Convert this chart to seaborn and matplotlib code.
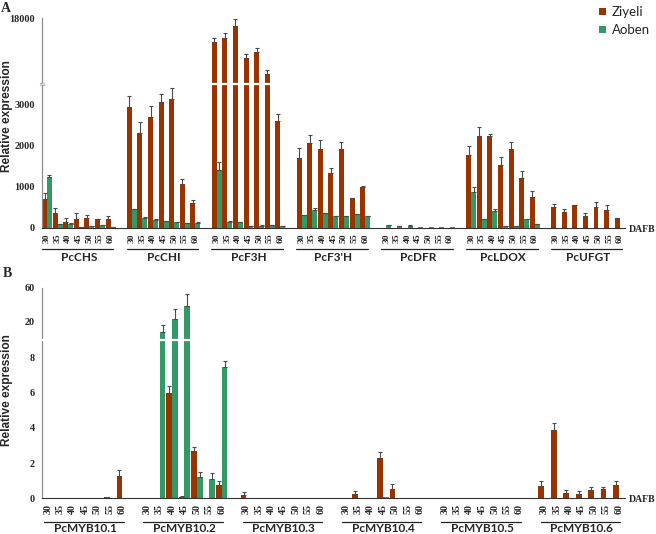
import numpy as np
import pandas as pd
import seaborn as sns
import matplotlib.pyplot as plt
from matplotlib.transforms import blended_transform_factory

# dias despues de floracion y cultivares
days = [30, 35, 40, 45, 50, 55, 60]
cultivars = ['Ziyeli', 'Aoben']
colors = {'Ziyeli': '#993300', 'Aoben': '#339966'}

# panel A: genes estructurales
genes_a = ['PcCHS', 'PcCHI', 'PcF3H', "PcF3'H", 'PcDFR', 'PcLDOX', 'PcUFGT']
chs_z = [698, 350, 139, 204, 236, 211, 211]
chs_z_err = [138, 122, 90, 146, 80, 10, 73]
chs_a = [1240, 83, 100, 20, 30, 58, 20]
chs_a_err = [40, 10, 15, 5, 5, 8, 5]
chi_z = [2935, 2295, 2700, 3056, 3129, 1070, 608]
chi_z_err = [275, 267, 266, 187, 259, 114, 57]
chi_a = [447, 228, 195, 163, 139, 107, 114]
chi_a_err = [10, 40, 10, 10, 10, 10, 20]
f3h_z = [12810, 13570, 16360, 9130, 10600, 5650, 2600]
f3h_z_err = [750, 1100, 1490, 950, 750, 890, 164]
f3h_a = [1402, 146, 140, 30, 50, 60, 40]
f3h_a_err = [188, 20, 10, 5, 5, 5, 5]
f3ph_z = [1695, 2067, 1906, 1322, 1906, 715, 997]
f3ph_z_err = [235, 179, 226, 122, 169, 10, 10]
f3ph_a = [301, 423, 350, 284, 284, 333, 284]
f3ph_a_err = [15, 49, 10, 10, 10, 10, 10]
dfr_z = [3, 3, 3, 3, 3, 3, 3]
dfr_z_err = [0, 0, 0, 0, 0, 0, 0]
dfr_a = [66, 40, 50, 15, 15, 15, 15]
dfr_a_err = [5, 5, 5, 0, 0, 0, 0]
ldox_z = [1768, 2237, 2237, 1524, 1906, 1216, 754]
ldox_z_err = [219, 203, 33, 187, 169, 170, 138]
ldox_a = [875, 204, 414, 40, 40, 204, 90]
ldox_a_err = [122, 10, 32, 5, 5, 10, 5]
ufgt_z = [496, 374, 552, 284, 496, 430, 228]
ufgt_z_err = [80, 73, 10, 66, 129, 115, 16]
ufgt_a = [0, 0, 0, 0, 0, 0, 0]
ufgt_a_err = [0, 0, 0, 0, 0, 0, 0]

# panel B: genes MYB10
genes_b = ['PcMYB10.1', 'PcMYB10.2', 'PcMYB10.3', 'PcMYB10.4', 'PcMYB10.5', 'PcMYB10.6']
myb1_z = [0, 0, 0, 0, 0, 0.05, 1.27]
myb1_z_err = [0, 0, 0, 0, 0, 0, 0.32]
myb1_a = [0, 0, 0, 0, 0, 0, 0]
myb1_a_err = [0, 0, 0, 0, 0, 0, 0]
myb2_z = [0.03, 0, 5.97, 0.1, 2.71, 0, 0.76]
myb2_z_err = [0, 0, 0.42, 0.05, 0.19, 0, 0.22]
myb2_a = [0, 13.7, 22.8, 38.8, 1.21, 1.1, 7.45]
myb2_a_err = [0, 4.3, 11.8, 13.4, 0.29, 0.34, 0.38]
myb3_z = [0.19, 0, 0, 0, 0, 0, 0]
myb3_z_err = [0.17, 0, 0, 0, 0, 0, 0]
myb3_a = [0, 0, 0, 0, 0, 0, 0]
myb3_a_err = [0, 0, 0, 0, 0, 0, 0]
myb4_z = [0, 0.24, 0, 2.29, 0.55, 0, 0]
myb4_z_err = [0, 0.2, 0, 0.34, 0.26, 0, 0]
myb4_a = [0.03, 0, 0, 0.05, 0, 0, 0]
myb4_a_err = [0, 0, 0, 0, 0, 0, 0]
myb5_z = [0, 0, 0, 0, 0, 0, 0]
myb5_z_err = [0, 0, 0, 0, 0, 0, 0]
myb5_a = [0, 0, 0, 0, 0, 0, 0]
myb5_a_err = [0, 0, 0, 0, 0, 0, 0]
myb6_z = [0.68, 3.88, 0.3, 0.23, 0.45, 0.51, 0.76]
myb6_z_err = [0.28, 0.38, 0.15, 0.17, 0.19, 0.15, 0.22]
myb6_a = [0, 0, 0, 0, 0, 0, 0]
myb6_a_err = [0, 0, 0, 0, 0, 0, 0]

series_a = [(chs_z, chs_z_err, chs_a, chs_a_err), (chi_z, chi_z_err, chi_a, chi_a_err),
            (f3h_z, f3h_z_err, f3h_a, f3h_a_err), (f3ph_z, f3ph_z_err, f3ph_a, f3ph_a_err),
            (dfr_z, dfr_z_err, dfr_a, dfr_a_err), (ldox_z, ldox_z_err, ldox_a, ldox_a_err),
            (ufgt_z, ufgt_z_err, ufgt_a, ufgt_a_err)]
series_b = [(myb1_z, myb1_z_err, myb1_a, myb1_a_err), (myb2_z, myb2_z_err, myb2_a, myb2_a_err),
            (myb3_z, myb3_z_err, myb3_a, myb3_a_err), (myb4_z, myb4_z_err, myb4_a, myb4_a_err),
            (myb5_z, myb5_z_err, myb5_a, myb5_a_err), (myb6_z, myb6_z_err, myb6_a, myb6_a_err)]


def long_table(genes, series):
    rows = []
    for g, (z, ze, a, ae) in zip(genes, series):
        for i, d in enumerate(days):
            rows.append((g + '|' + str(d), 'Ziyeli', z[i], ze[i]))
            rows.append((g + '|' + str(d), 'Aoben', a[i], ae[i]))
    return pd.DataFrame(rows, columns=['slot', 'cultivar', 'value', 'err'])


def slot_order(genes):
    order = []
    for k, g in enumerate(genes):
        order += [g + '|' + str(d) for d in days]
        if k < len(genes) - 1:
            order.append('gap' + str(k))
    return order


# eje y quebrado: tramos lineales
def make_scale(vals, hts):
    vals = np.asarray(vals, float)
    hts = np.asarray(hts, float)

    def interp(v, xs, ys):
        v = np.asarray(v, float)
        out = np.interp(v, xs, ys)
        lo = (ys[1] - ys[0]) / (xs[1] - xs[0])
        hi = (ys[-1] - ys[-2]) / (xs[-1] - xs[-2])
        out = np.where(v < xs[0], ys[0] + (v - xs[0]) * lo, out)
        out = np.where(v > xs[-1], ys[-1] + (v - xs[-1]) * hi, out)
        return out

    return (lambda v: interp(v, vals, hts)), (lambda h: interp(h, hts, vals))


sns.set_style('white')
plt.rcParams['font.family'] = ['Liberation Serif', 'DejaVu Sans']

fig = plt.figure(figsize=(6.56, 5.34), dpi=100)
ax_a = fig.add_axes([41.7 / 656, 1 - 227.7 / 534, 583.3 / 656, 209.4 / 534])
ax_b = fig.add_axes([41.7 / 656, 1 - 498.3 / 534, 583.3 / 656, 210.6 / 534])

W = 0.94


def draw_panel(ax, genes, series, knots_v, knots_h, yticks, brk, tick_fs, minor_all,
               ul_px, lab_px, ul_l, ul_r, legend):
    df = long_table(genes, series)
    order = slot_order(genes)
    sns.barplot(data=df, x='slot', y='value', hue='cultivar', order=order,
                hue_order=cultivars, palette=colors, width=W, gap=0, saturation=1,
                linewidth=0, edgecolor='none', errorbar=None, legend=legend, ax=ax, zorder=2)
    fwd, inv = make_scale(knots_v, knots_h)
    ax.set_yscale('function', functions=(fwd, inv))
    ax.set_ylim(0, knots_v[-1])
    ax.set_xlim(-0.5, len(order) - 0.5)

    # barras de error (solo hacia arriba)
    for j, c in enumerate(cultivars):
        sub = df[(df['cultivar'] == c) & (df['err'] > 0)]
        xs = [order.index(s) + (j - 0.5) * W / 2 for s in sub['slot']]
        ax.errorbar(xs, sub['value'], yerr=[np.zeros(len(sub)), sub['err']], fmt='none',
                    ecolor='#4a4a4a', elinewidth=0.8, capsize=1.6, capthick=0.8, zorder=3)

    ax.axhline(brk, color='white', lw=1.6, zorder=6)

    ax.set_xlabel('')
    ax.set_ylabel('')
    ax.set_yticks(yticks)
    ax.set_yticklabels([str(t) for t in yticks], fontweight='bold', fontsize=7.3)
    ax.minorticks_off()
    ax.set_xticks(range(len(order)))
    ax.set_xticklabels([s.split('|')[1] if '|' in s else '' for s in order],
                       rotation=90, fontweight='bold', fontsize=tick_fs)
    if minor_all:
        minor = [i + 0.5 for i in range(len(order) - 1)]
    else:
        minor = [8 * g + 7.5 for g in range(len(genes) - 1)]
    ax.set_xticks(minor, minor=True)
    ax.tick_params(axis='x', which='major', length=0, pad=4)
    ax.tick_params(axis='x', which='minor', direction='in', length=3, width=0.7, color='#555555')
    ax.tick_params(axis='y', which='major', length=2, width=0.7, color='#8c8c8c', pad=3)
    sns.despine(ax=ax)
    ax.spines['left'].set_color('#8c8c8c')
    ax.spines['left'].set_linewidth(0.9)
    ax.spines['bottom'].set_color('#333333')
    ax.spines['bottom'].set_linewidth(0.8)

    # nombres de genes subrayados (posicion vertical en pixeles de la figura)
    tr_line = blended_transform_factory(ax.transData, fig.transFigure)
    for k, g in enumerate(genes):
        k0 = 8 * k
        ax.plot([k0 + ul_l, k0 + ul_r], [1 - ul_px / 534] * 2, color='#222222', lw=0.9,
                transform=tr_line, clip_on=False)
        ax.text(k0 + 3, 1 - lab_px / 534, g, transform=tr_line, ha='center', va='baseline',
                fontsize=8.5, fontweight='bold', family=['Lato', 'DejaVu Sans'])
    return order


draw_panel(ax_a, genes_a, series_a, [0, 3500, 18000], [0, 144, 209.4],
           [0, 1000, 2000, 3000, 18000], 3500, 6.8, False, 248.5, 261.5, -0.5, 6.25, True)
draw_panel(ax_b, genes_b, series_b, [0, 9, 20, 60], [0, 158.2, 176.6, 210.6],
           [0, 2, 4, 6, 8, 20, 60], 9, 7.2, True, 521.5, 531.5, -0.3, 6.1, False)

# marca de corte en eje y del panel A
tr_a = blended_transform_factory(ax_a.transAxes, ax_a.transData)
ax_a.text(0, 3500, '\u2248', transform=tr_a, ha='center', va='center', color='#8c8c8c',
          fontsize=6, family='DejaVu Sans', zorder=7, clip_on=False)

sns.move_legend(ax_a, 'upper left', bbox_to_anchor=(594 / 656, 1 - 1 / 534),
                bbox_transform=fig.transFigure, title=None, frameon=False,
                prop={'family': 'Lato', 'size': 9.5}, handlelength=0.5, handleheight=0.5,
                handletextpad=0.45, labelspacing=0.45, borderaxespad=0)

for ypx in [229, 499]:
    fig.text(629 / 656, 1 - ypx / 534, 'DAFB', ha='left', va='center', fontsize=7,
             fontweight='bold')

fig.text(7 / 656, 1 - 116 / 534, 'Relative expression', rotation=90, ha='center',
         va='center', fontsize=8.6, fontweight='bold', family=['Liberation Sans'])
fig.text(7 / 656, 1 - 390 / 534, 'Relative expression', rotation=90, ha='center',
         va='center', fontsize=8.6, fontweight='bold', family=['Liberation Sans'])
fig.text(1 / 656, 1 - 2 / 534, 'A', ha='left', va='top', fontsize=10, fontweight='bold')
fig.text(3 / 656, 1 - 267 / 534, 'B', ha='left', va='top', fontsize=10, fontweight='bold')

fig.savefig('out.png', dpi=100)
